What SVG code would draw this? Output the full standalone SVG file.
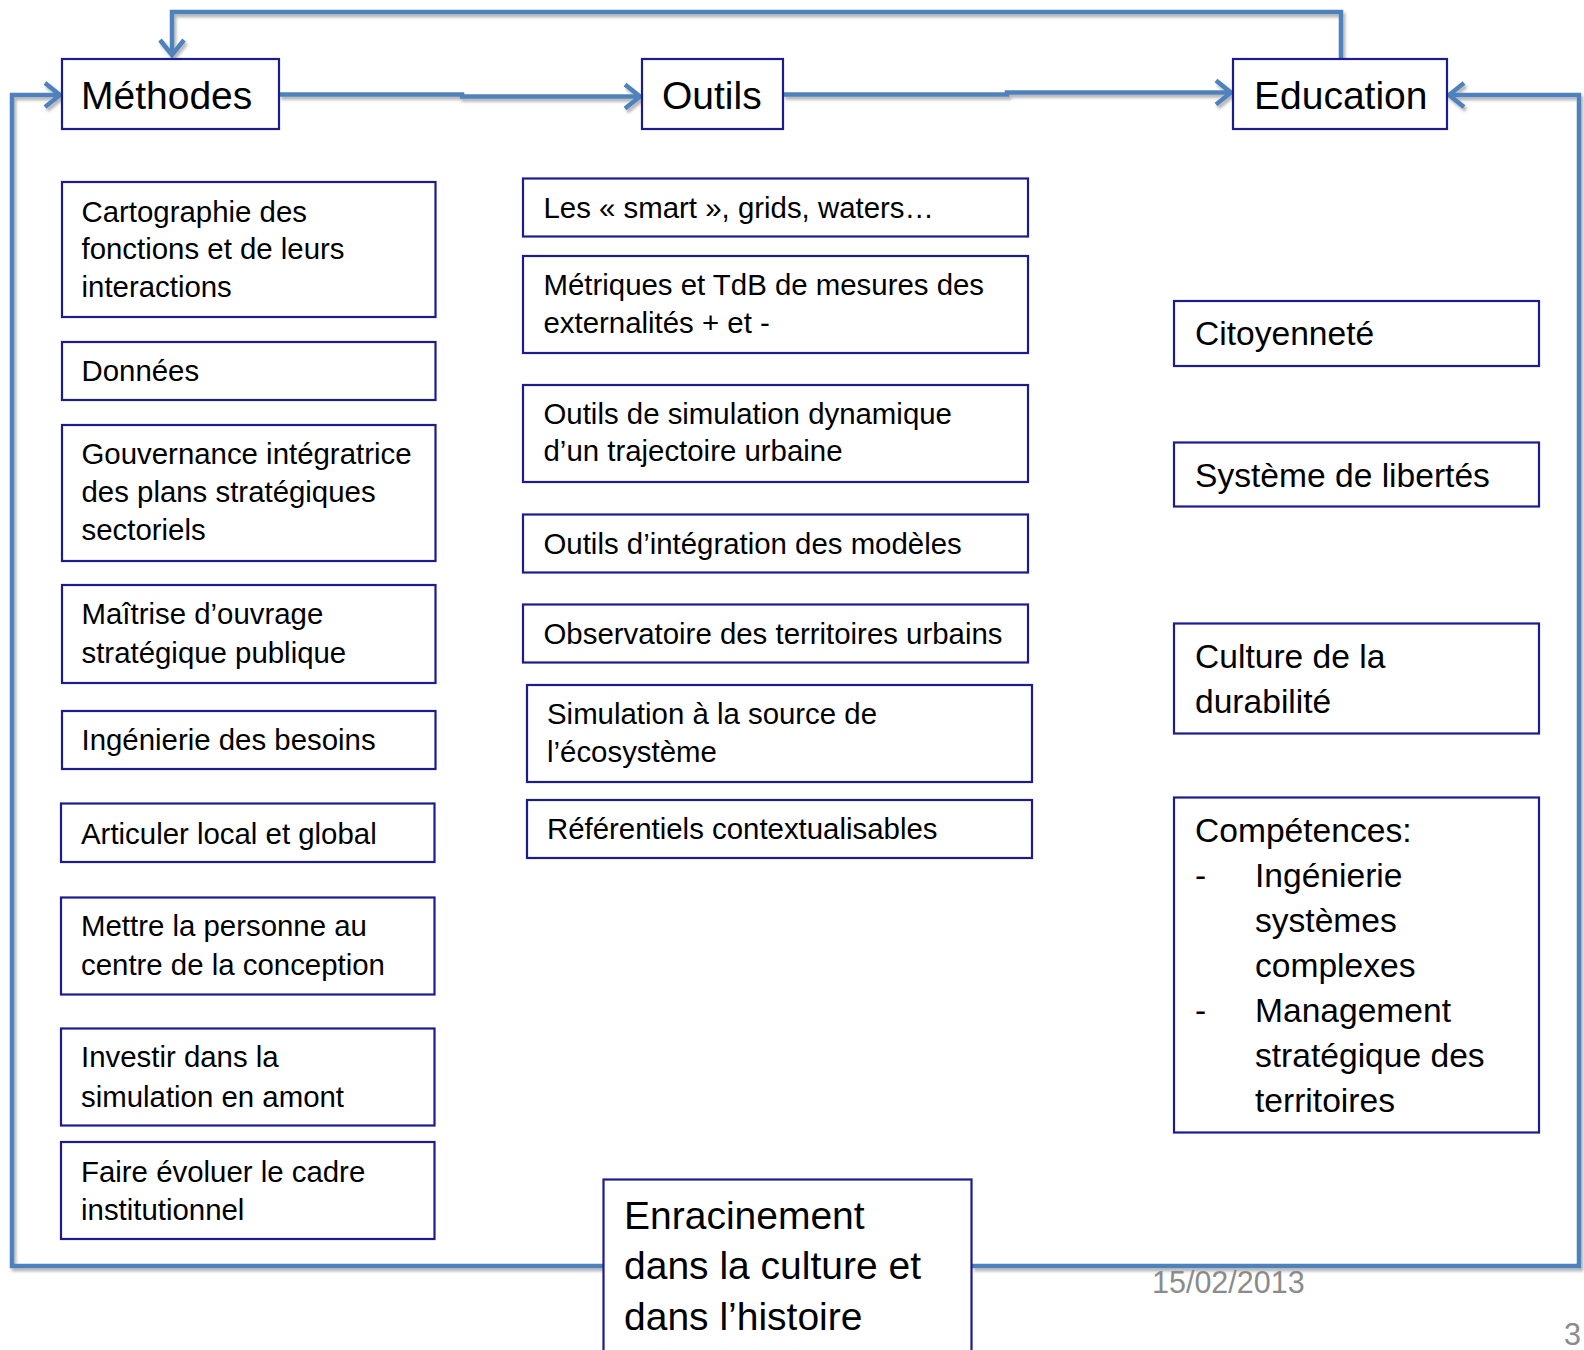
<svg xmlns="http://www.w3.org/2000/svg" width="1584" height="1350" viewBox="0 0 1584 1350">
<style>
.box{fill:#ffffff;stroke:#1c1c8f;stroke-width:2.2}
.t{font-family:"Liberation Sans",Arial,sans-serif;fill:#000000}
.s32{font-size:29.4px}
.s37{font-size:33.6px}
.s42{font-size:39px}
.conn{fill:none;stroke:#4F81BD;stroke-width:4.5;stroke-linejoin:miter}
.foot{font-family:"Liberation Sans",Arial,sans-serif;font-size:30.5px;fill:#8b8b8b}
</style>
<defs>
<marker id="arr" markerUnits="userSpaceOnUse" viewBox="-20 -16 24 32" refX="0" refY="0" markerWidth="24" markerHeight="32" orient="auto">
<path d="M -15 -12 L 0 0 L -15 12" fill="none" stroke="#4F81BD" stroke-width="4.5" stroke-linejoin="miter"/>
</marker>
<filter id="sh" x="-5%" y="-5%" width="110%" height="110%">
<feDropShadow dx="2" dy="3" stdDeviation="1.8" flood-color="#000000" flood-opacity="0.3"/>
</filter>
</defs>
<rect x="0" y="0" width="1584" height="1350" fill="#ffffff"/>

<g id="connectors" filter="url(#sh)">
<path class="conn" d="M 1341 59 L 1341 12 L 172 12 L 172 55" marker-end="url(#arr)"/>
<path class="conn" d="M 279 94.5 L 462 94.5 L 462 96.5 L 640 96.5" marker-end="url(#arr)"/>
<path class="conn" d="M 783 94.5 L 1007 94.5 L 1007 92.5 L 1231 92.5" marker-end="url(#arr)"/>
<path class="conn" d="M 603 1266 L 12 1266 L 12 95 L 60 95" marker-end="url(#arr)"/>
<path class="conn" d="M 972 1266 L 1579 1266 L 1579 95 L 1449 95" marker-end="url(#arr)"/>
</g>

<g id="methodes"><rect class="box" x="62" y="59" width="217" height="70"/><text class="t s42" x="81" y="108.5">Méthodes</text></g>
<g id="outils"><rect class="box" x="642" y="59" width="141" height="70"/><text class="t s42" x="662" y="108.5">Outils</text></g>
<g id="education"><rect class="box" x="1233" y="59" width="214" height="70"/><text class="t s42" x="1254" y="108.5">Education</text></g>

<g id="m1"><rect class="box" x="62" y="182" width="373.5" height="135"/>
<text class="t s32" x="81.5" y="221.5">Cartographie des</text>
<text class="t s32" x="81.5" y="259">fonctions et de leurs</text>
<text class="t s32" x="81.5" y="296.5">interactions</text></g>
<g id="m2"><rect class="box" x="62" y="342" width="373.5" height="58"/>
<text class="t s32" x="81.5" y="380.5">Données</text></g>
<g id="m3"><rect class="box" x="62" y="425" width="373.5" height="136"/>
<text class="t s32" x="81.5" y="464">Gouvernance intégratrice</text>
<text class="t s32" x="81.5" y="502">des plans stratégiques</text>
<text class="t s32" x="81.5" y="540">sectoriels</text></g>
<g id="m4"><rect class="box" x="62" y="585" width="373.5" height="98"/>
<text class="t s32" x="81.5" y="624">Maîtrise d’ouvrage</text>
<text class="t s32" x="81.5" y="662.5">stratégique publique</text></g>
<g id="m5"><rect class="box" x="62" y="711" width="373.5" height="58"/>
<text class="t s32" x="81.5" y="750">Ingénierie des besoins</text></g>
<g id="m6"><rect class="box" x="61" y="803.5" width="373.5" height="58.5"/>
<text class="t s32" x="81" y="843.5">Articuler local et global</text></g>
<g id="m7"><rect class="box" x="61" y="897.5" width="373.5" height="97"/>
<text class="t s32" x="81" y="936">Mettre la personne au</text>
<text class="t s32" x="81" y="974.5">centre de la conception</text></g>
<g id="m8"><rect class="box" x="61" y="1028.5" width="373.5" height="97"/>
<text class="t s32" x="81" y="1067">Investir dans la</text>
<text class="t s32" x="81" y="1106.5">simulation en amont</text></g>
<g id="m9"><rect class="box" x="61" y="1142" width="373.5" height="97"/>
<text class="t s32" x="81" y="1181.5">Faire évoluer le cadre</text>
<text class="t s32" x="81" y="1220">institutionnel</text></g>

<g id="o1"><rect class="box" x="523" y="178.5" width="505" height="58"/>
<text class="t s32" x="543.5" y="217.5">Les « smart », grids, waters…</text></g>
<g id="o2"><rect class="box" x="523" y="256" width="505" height="97"/>
<text class="t s32" x="543.5" y="295">Métriques et TdB de mesures des</text>
<text class="t s32" x="543.5" y="333">externalités + et -</text></g>
<g id="o3"><rect class="box" x="523" y="385" width="505" height="97"/>
<text class="t s32" x="543.5" y="423.5">Outils de simulation dynamique</text>
<text class="t s32" x="543.5" y="461">d’un trajectoire urbaine</text></g>
<g id="o4"><rect class="box" x="523" y="514.5" width="505" height="58"/>
<text class="t s32" x="543.5" y="553.5">Outils d’intégration des modèles</text></g>
<g id="o5"><rect class="box" x="523" y="604.5" width="505" height="58"/>
<text class="t s32" x="543.5" y="644">Observatoire des territoires urbains</text></g>
<g id="o6"><rect class="box" x="527" y="685" width="505" height="97"/>
<text class="t s32" x="547" y="724">Simulation à la source de</text>
<text class="t s32" x="547" y="762">l’écosystème</text></g>
<g id="o7"><rect class="box" x="527" y="800" width="505" height="58"/>
<text class="t s32" x="547" y="838.5">Référentiels contextualisables</text></g>

<g id="e1"><rect class="box" x="1174" y="301" width="365" height="65"/>
<text class="t s37" x="1195" y="345">Citoyenneté</text></g>
<g id="e2"><rect class="box" x="1174" y="442.5" width="365" height="64"/>
<text class="t s37" x="1195" y="486.5">Système de libertés</text></g>
<g id="e3"><rect class="box" x="1174" y="623.5" width="365" height="110"/>
<text class="t s37" x="1195" y="667.5">Culture de la</text>
<text class="t s37" x="1195" y="712.5">durabilité</text></g>
<g id="e4"><rect class="box" x="1174" y="797.5" width="365" height="335"/>
<text class="t s37" x="1195" y="841.5">Compétences:</text>
<text class="t s37" x="1195" y="886.5">-</text>
<text class="t s37" x="1255" y="886.5">Ingénierie</text>
<text class="t s37" x="1255" y="931.5">systèmes</text>
<text class="t s37" x="1255" y="976.5">complexes</text>
<text class="t s37" x="1195" y="1021.5">-</text>
<text class="t s37" x="1255" y="1021.5">Management</text>
<text class="t s37" x="1255" y="1066.5">stratégique des</text>
<text class="t s37" x="1255" y="1111.5">territoires</text></g>

<g id="enracinement"><rect class="box" x="603.5" y="1179.5" width="368" height="185"/>
<text class="t s42" x="624" y="1229">Enracinement</text>
<text class="t s42" x="624" y="1279">dans la culture et</text>
<text class="t s42" x="624" y="1329.5">dans l’histoire</text></g>

<text class="foot" x="1152" y="1293">15/02/2013</text>
<text class="foot" x="1564" y="1345">3</text>
</svg>
